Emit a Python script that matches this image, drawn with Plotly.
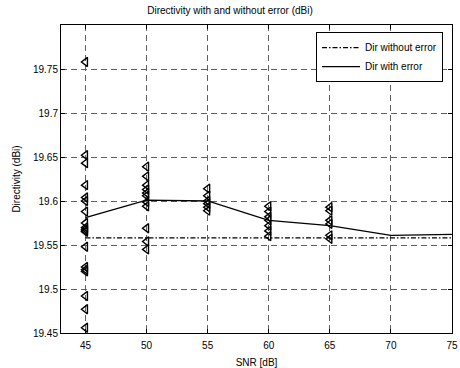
import plotly.graph_objects as go

snr = [45, 50, 55, 60, 65, 70, 75]
dir_with_error = [19.581, 19.601, 19.600, 19.578, 19.572, 19.561, 19.562]
dir_without_error = [19.558, 19.558, 19.558, 19.558, 19.558, 19.558, 19.558]

samples_snr = ([45] * 19) + ([50] * 11) + ([55] * 6) + ([60] * 7) + ([65] * 6)
samples_dir = [
    19.758, 19.652, 19.643, 19.618, 19.604, 19.600, 19.588, 19.575, 19.568, 19.566,
    19.565, 19.548, 19.525, 19.522, 19.520, 19.492, 19.477, 19.456, 19.570,
    19.639, 19.628, 19.618, 19.613, 19.609, 19.606, 19.599, 19.594, 19.569, 19.554, 19.545,
    19.614, 19.606, 19.600, 19.597, 19.593, 19.589,
    19.594, 19.588, 19.582, 19.578, 19.572, 19.566, 19.560,
    19.593, 19.589, 19.578, 19.574, 19.561, 19.557,
]

x_ticks = [45, 50, 55, 60, 65, 70, 75]
y_ticks = [19.45, 19.5, 19.55, 19.6, 19.65, 19.7, 19.75]
y_tick_labels = ["19.45", "19.5", "19.55", "19.6", "19.65", "19.7", "19.75"]

fig = go.Figure()
fig.add_trace(go.Scatter(
    x=samples_snr, y=samples_dir, mode="markers", showlegend=False,
    marker=dict(symbol="triangle-left-open", size=8, color="black", line=dict(width=1.4, color="black")),
))
fig.add_trace(go.Scatter(
    x=snr, y=dir_without_error, mode="lines", name="Dir without error",
    line=dict(color="black", width=1.3, dash="5px,2px,1.5px,2px"),
))
fig.add_trace(go.Scatter(
    x=snr, y=dir_with_error, mode="lines", name="Dir with error",
    line=dict(color="black", width=1.3),
))

font = dict(family="Liberation Sans, Arial, sans-serif", size=10, color="black")
axis_common = dict(
    showline=True, linecolor="black", linewidth=1, mirror="ticks",
    ticks="inside", ticklen=4, tickcolor="black",
    showgrid=True, gridcolor="#606060", gridwidth=1, griddash="6px,4px",
    zeroline=False, tickfont=font, automargin=False,
)
fig.update_layout(
    width=460, height=368,
    margin=dict(l=61, r=8, t=25, b=35),
    paper_bgcolor="white", plot_bgcolor="white",
    font=font,
    title=dict(text="Directivity with and without error (dBi)", x=0.5, xanchor="center",
               y=0.972, yanchor="middle", font=dict(family="Liberation Sans, Arial, sans-serif", size=10),
               automargin=False),
    xaxis=dict(range=[43, 75], tickvals=x_ticks, ticklabelstandoff=3,
               title=dict(text="SNR [dB]", standoff=9, font=font), **axis_common),
    yaxis=dict(range=[19.45, 19.8], tickvals=y_ticks, ticktext=y_tick_labels,
               title=dict(text="Directivity (dBi)", standoff=10, font=font), **axis_common),
    legend=dict(x=0.977, y=0.977, xanchor="right", yanchor="top", bgcolor="white",
                bordercolor="black", borderwidth=1, font=font, tracegroupgap=0,
                itemwidth=38),
)
fig.write_html(
    "out.html",
    config={"displayModeBar": False},
    post_script="document.documentElement.style.margin='0';document.body.style.margin='0';"
                "document.body.style.overflow='hidden';document.documentElement.style.overflow='hidden';",
)
